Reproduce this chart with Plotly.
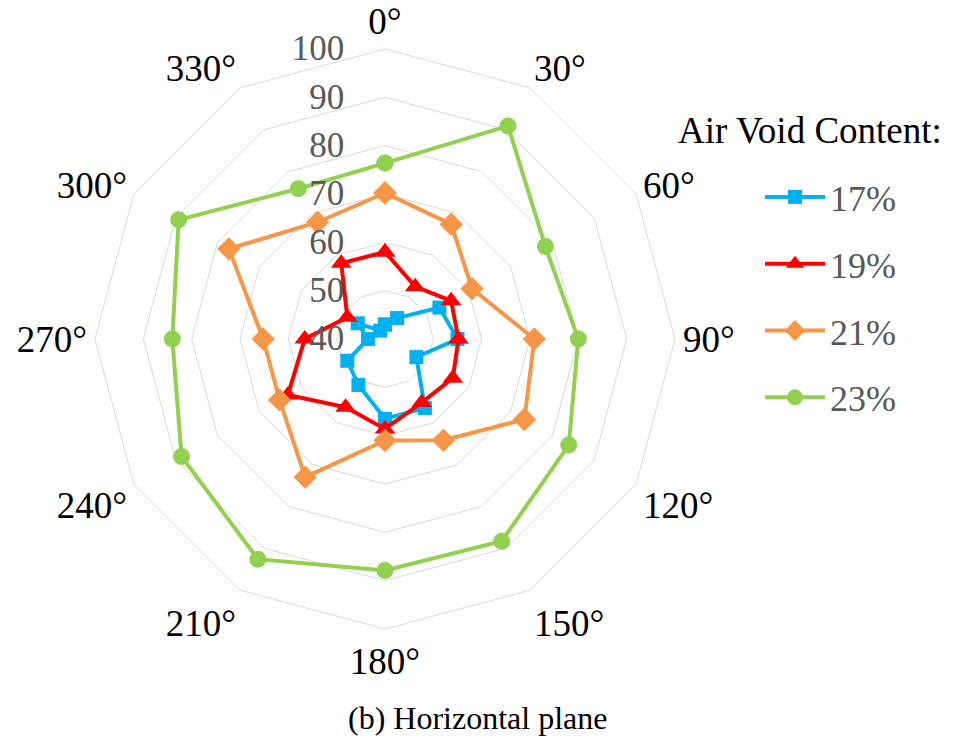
import plotly.graph_objects as go

# Measurement directions (degrees) in the horizontal plane
angles = ["0°", "30°", "60°", "90°", "120°", "150°",
          "180°", "210°", "240°", "270°", "300°", "330°"]

# Values for each air void content
void_17 = [43.0, 45.0, 53.0, 55.0, 47.5, 56.5, 56.5, 51.0, 49.0, 43.5, 46.5, 42.0]
void_19 = [58.0, 52.5, 55.8, 55.2, 56.2, 55.2, 58.6, 56.3, 63.2, 56.6, 49.0, 58.1]
void_21 = [70.2, 67.4, 60.8, 70.9, 73.3, 64.2, 61.0, 73.0, 65.2, 65.2, 77.3, 67.9]
void_23 = [76.4, 90.9, 78.3, 80.0, 83.9, 88.3, 87.9, 92.6, 88.6, 84.0, 89.3, 75.9]

series_names = ["17%", "19%", "21%", "23%"]
radial_ticks = [40, 50, 60, 70, 80, 90, 100]

SERIF = "Times New Roman, Liberation Serif, serif"
W, H = 954, 744

styles = [
    dict(color="#00B0F0", symbol="square", size=14),
    dict(color="#FF0000", symbol="triangle-up", size=18),
    dict(color="#F79646", symbol="diamond", size=18),
    dict(color="#92D050", symbol="circle", size=17),
]

fig = go.Figure()
for name, vals, st in zip(series_names,
                          [void_17, void_19, void_21, void_23],
                          styles):
    fig.add_trace(go.Scatterpolar(
        r=vals + vals[:1],
        theta=angles + angles[:1],
        mode="lines+markers",
        name=name,
        legendgroup=name,
        line=dict(color=st["color"], width=4),
        marker=dict(color=st["color"], symbol=st["symbol"], size=st["size"]),
    ))

fig.update_layout(
    width=W,
    height=H,
    margin=dict(l=0, r=0, t=0, b=0),
    paper_bgcolor="white",
    plot_bgcolor="white",
    font=dict(family=SERIF, size=36, color="black"),
    polar=dict(
        domain=dict(x=[95 / W, 675 / W], y=[1 - 629 / H, 1 - 49 / H]),
        bgcolor="white",
        gridshape="linear",
        radialaxis=dict(
            range=[40, 100],
            tickvals=radial_ticks,
            angle=90,
            side="counterclockwise",
            tickangle=90,
            showline=False,
            # invisible ticks keep the labels clear of the 0° axis
            ticks="outside",
            ticklen=28,
            tickcolor="rgba(0,0,0,0)",
            gridcolor="#D9D9D9",
            gridwidth=1,
            tickfont=dict(family=SERIF, size=35, color="#595959"),
        ),
        angularaxis=dict(
            direction="clockwise",
            rotation=90,
            showgrid=False,
            showline=True,
            linecolor="#D9D9D9",
            linewidth=1,
            ticks="",
            tickfont=dict(family=SERIF, size=37, color="black"),
        ),
    ),
    legend=dict(
        font=dict(family=SERIF, size=36, color="#595959"),
        x=760 / W,
        y=1 - 167 / H,
        xanchor="left",
        yanchor="top",
        tracegroupgap=17,
        itemwidth=60,
        bgcolor="rgba(0,0,0,0)",
    ),
    annotations=[
        dict(text="Air Void Content:", x=676 / W, y=1 - 130 / H,
             xref="paper", yref="paper", xanchor="left", yanchor="middle",
             showarrow=False,
             font=dict(family=SERIF, size=37, color="black")),
        dict(text="(b) Horizontal plane", x=0.5, y=1 - 718 / H,
             xref="paper", yref="paper", yanchor="middle", showarrow=False,
             font=dict(family=SERIF, size=32, color="black")),
    ],
)

fig.write_html("out.html")
